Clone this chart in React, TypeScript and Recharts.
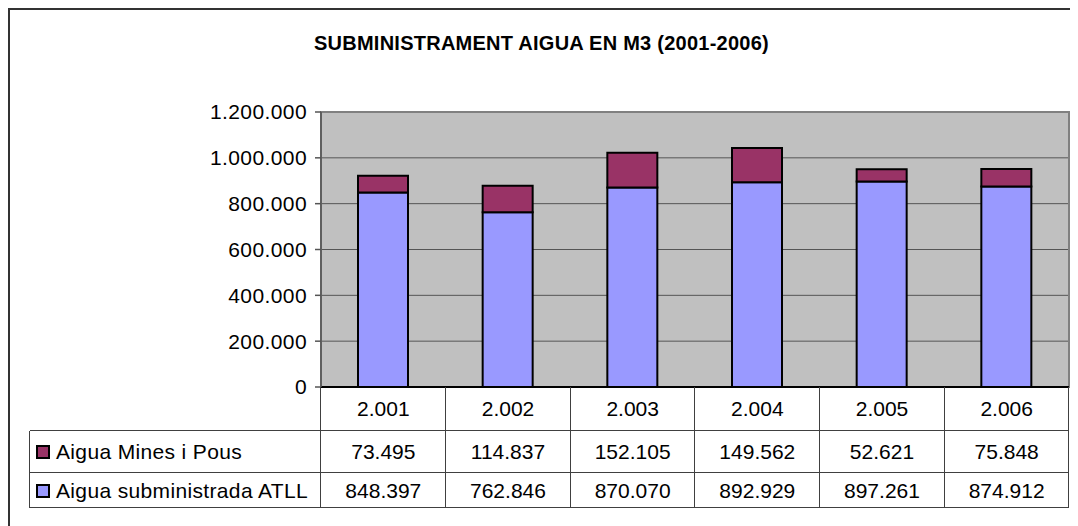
import { BarChart, Bar, XAxis, YAxis, CartesianGrid, ReferenceLine, ReferenceArea } from "recharts";

const years = ["2.001", "2.002", "2.003", "2.004", "2.005", "2.006"];
const minesPous = [73495, 114837, 152105, 149562, 52621, 75848];
const atll = [848397, 762846, 870070, 892929, 897261, 874912];
const yTicks = [0, 200000, 400000, 600000, 800000, 1000000, 1200000];

const seriesMines = "Aigua Mines i Pous";
const seriesAtll = "Aigua subministrada ATLL";

const fmt = (v: number) => String(v).replace(/\B(?=(\d{3})+(?!\d))/g, ".");

const data = years.map((y, i) => ({ year: y, atll: atll[i], mines: minesPous[i] }));

const FONT = "'Liberation Sans', Arial, sans-serif";

// layout (relative to the framed box)
const plotLeft = 311;
const plotRight = 1059;
const colW = (plotRight - plotLeft) / years.length;
const tableLeft = 20;
const rowY = [377, 421, 463, 498];
const lineColor = "#404040";

export default function App() {
  const rows = [
    { label: seriesMines, color: "#993366", values: minesPous },
    { label: seriesAtll, color: "#9999FF", values: atll },
  ];

  return (
    <div
      style={{
        position: "relative",
        width: 1068,
        height: 516,
        borderLeft: "2px solid #333",
        borderTop: "2px solid #333",
        fontFamily: FONT,
        background: "#fff",
      }}
    >
      {/* title */}
      <div
        style={{
          position: "absolute",
          left: 0,
          width: 1063,
          top: 22,
          textAlign: "center",
          fontWeight: "bold",
          fontSize: 20,
          letterSpacing: 0.25,
          color: "#000",
        }}
      >
        SUBMINISTRAMENT AIGUA EN M3 (2001-2006)
      </div>

      <div style={{ position: "absolute", left: 0, top: 0 }}>
        <BarChart
          width={1068}
          height={400}
          data={data}
          margin={{ top: 102, right: 1068 - plotRight, bottom: 23, left: 0 }}
          barSize={50}
        >
          <CartesianGrid vertical={false} fill="#C0C0C0" stroke="#555" fillOpacity={1} />
          <XAxis dataKey="year" hide />
          <YAxis
            width={plotLeft}
            domain={[0, 1200000]}
            ticks={yTicks}
            interval={0}
            tickFormatter={fmt}
            tick={{ fontSize: 21, fill: "#000", fontFamily: FONT, letterSpacing: 0.4 }}
            tickSize={6}
            tickMargin={8}
            axisLine={{ stroke: "#555", strokeWidth: 1.5 }}
            tickLine={{ stroke: "#555", strokeWidth: 1.5 }}
          />
          <ReferenceArea y1={0} y2={1200000} fill="none" stroke="#808080" strokeWidth={2} />
          <Bar dataKey="atll" name={seriesAtll} stackId="a" fill="#9999FF" stroke="#000" strokeWidth={2} isAnimationActive={false} />
          <Bar dataKey="mines" name={seriesMines} stackId="a" fill="#993366" stroke="#000" strokeWidth={2} isAnimationActive={false} />
          <ReferenceLine y={0} stroke="#000" strokeWidth={2} />
        </BarChart>
      </div>

      {/* data table: vertical lines */}
      {years.map((_, i) => (
        <div
          key={"v" + i}
          style={{
            position: "absolute",
            left: plotLeft + colW * (i + 1) - 0.75,
            top: rowY[0],
            width: 0,
            height: rowY[3] - rowY[0],
            borderLeft: `1.5px solid ${lineColor}`,
          }}
        />
      ))}
      <div
        style={{
          position: "absolute",
          left: plotLeft - 0.75,
          top: rowY[0],
          height: rowY[3] - rowY[0],
          borderLeft: `1.5px solid ${lineColor}`,
        }}
      />
      <div
        style={{
          position: "absolute",
          left: tableLeft - 0.75,
          top: rowY[1],
          height: rowY[3] - rowY[1],
          borderLeft: `1.5px solid ${lineColor}`,
        }}
      />
      {/* horizontal lines */}
      {[rowY[1], rowY[2], rowY[3]].map((y, i) => (
        <div
          key={"h" + i}
          style={{
            position: "absolute",
            left: tableLeft,
            top: y - 0.75,
            width: plotRight - tableLeft,
            borderTop: `1.5px solid ${lineColor}`,
          }}
        />
      ))}

      {/* year row */}
      {years.map((y, i) => (
        <div
          key={"y" + i}
          style={{
            position: "absolute",
            left: plotLeft + colW * i,
            width: colW,
            top: rowY[0],
            height: rowY[1] - rowY[0],
            lineHeight: `${rowY[1] - rowY[0]}px`,
            textAlign: "center",
            fontSize: 21,
            color: "#000",
          }}
        >
          {y}
        </div>
      ))}

      {/* series rows */}
      {rows.map((r, ri) => {
        const top = rowY[ri + 1];
        const h = rowY[ri + 2] - top;
        return (
          <div key={r.label}>
            <div
              style={{
                position: "absolute",
                left: 26,
                top: top + h / 2 - 7,
                width: 10,
                height: 10,
                background: r.color,
                border: "2px solid #000",
              }}
            />
            <div
              style={{
                position: "absolute",
                left: 46,
                top,
                height: h,
                lineHeight: `${h}px`,
                fontSize: 21,
                letterSpacing: 0.35,
                color: "#000",
                whiteSpace: "nowrap",
              }}
            >
              {r.label}
            </div>
            {r.values.map((v, i) => (
              <div
                key={i}
                style={{
                  position: "absolute",
                  left: plotLeft + colW * i,
                  width: colW,
                  top,
                  height: h,
                  lineHeight: `${h}px`,
                  textAlign: "center",
                  fontSize: 21,
                  color: "#000",
                }}
              >
                {fmt(v)}
              </div>
            ))}
          </div>
        );
      })}
    </div>
  );
}
